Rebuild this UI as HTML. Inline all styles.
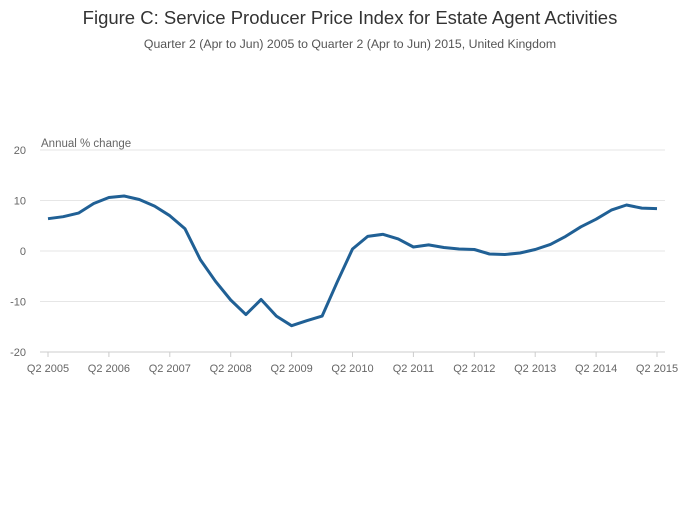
<!DOCTYPE html>
<html><head><meta charset="utf-8"><style>
body{margin:0;background:#fff;font-family:"Liberation Sans",sans-serif;}
svg text{font-family:"Liberation Sans",sans-serif;}
</style></head><body>
<svg width="700" height="502">
<rect width="700" height="502" fill="#fff"/>
<text x="350" y="24" text-anchor="middle" font-size="18.5" fill="#333">Figure C: Service Producer Price Index for Estate Agent Activities</text>
<text x="350" y="48" text-anchor="middle" font-size="12.3" fill="#555">Quarter 2 (Apr to Jun) 2005 to Quarter 2 (Apr to Jun) 2015, United Kingdom</text>
<text x="41" y="147" font-size="11.5" fill="#666">Annual % change</text>
<g id="grid"></g><g id="xaxis"></g>
<path id="line" fill="none" stroke="#206095" stroke-width="3" stroke-linejoin="round"/>
</svg>
<script>
const yTicks=[20,10,0,-10,-20];
const xLabels=["Q2 2005","Q2 2006","Q2 2007","Q2 2008","Q2 2009","Q2 2010","Q2 2011","Q2 2012","Q2 2013","Q2 2014","Q2 2015"];
const values=[6.4,6.8,7.5,9.4,10.6,10.9,10.2,8.9,7.0,4.4,-1.7,-6.0,-9.7,-12.6,-9.6,-12.9,-14.8,-13.8,-12.9,-6.1,0.4,2.9,3.3,2.4,0.8,1.2,0.7,0.4,0.3,-0.6,-0.7,-0.4,0.3,1.3,2.9,4.8,6.3,8.1,9.1,8.5,8.4];
const NS="http://www.w3.org/2000/svg";
const x0=48,x1=657,y0=251,ppu=5.05;
const xs=i=>x0+(x1-x0)*i/(values.length-1);
const ys=v=>y0-v*ppu;
const grid=document.getElementById('grid');
yTicks.forEach(t=>{
  const l=document.createElementNS(NS,'line');
  l.setAttribute('x1',40);l.setAttribute('x2',665);l.setAttribute('y1',ys(t));l.setAttribute('y2',ys(t));
  l.setAttribute('stroke',t===-20?'#ccc':'#e6e6e6');l.setAttribute('stroke-width',1);
  
  
  grid.appendChild(l);
  const tx=document.createElementNS(NS,'text');
  tx.setAttribute('x',26);tx.setAttribute('y',ys(t)+4);tx.setAttribute('text-anchor','end');
  tx.setAttribute('font-size','11');tx.setAttribute('fill','#666');tx.textContent=t;
  
  
  grid.appendChild(tx);
});
const xa=document.getElementById('xaxis');
xLabels.forEach((lab,k)=>{
  const x=xs(k*4);
  const l=document.createElementNS(NS,'line');
  l.setAttribute('x1',x);l.setAttribute('x2',x);l.setAttribute('y1',352);l.setAttribute('y2',357);
  l.setAttribute('stroke','#ccc');
  
  
  xa.appendChild(l);
  const tx=document.createElementNS(NS,'text');
  tx.setAttribute('x',x);tx.setAttribute('y',372);tx.setAttribute('text-anchor','middle');
  tx.setAttribute('font-size','11');tx.setAttribute('fill','#666');tx.textContent=lab;
  
  
  xa.appendChild(tx);
});
document.getElementById('line').setAttribute('d',values.map((v,i)=>(i?'L':'M')+xs(i).toFixed(1)+','+ys(v).toFixed(1)).join(''));
</script>
</body></html>
